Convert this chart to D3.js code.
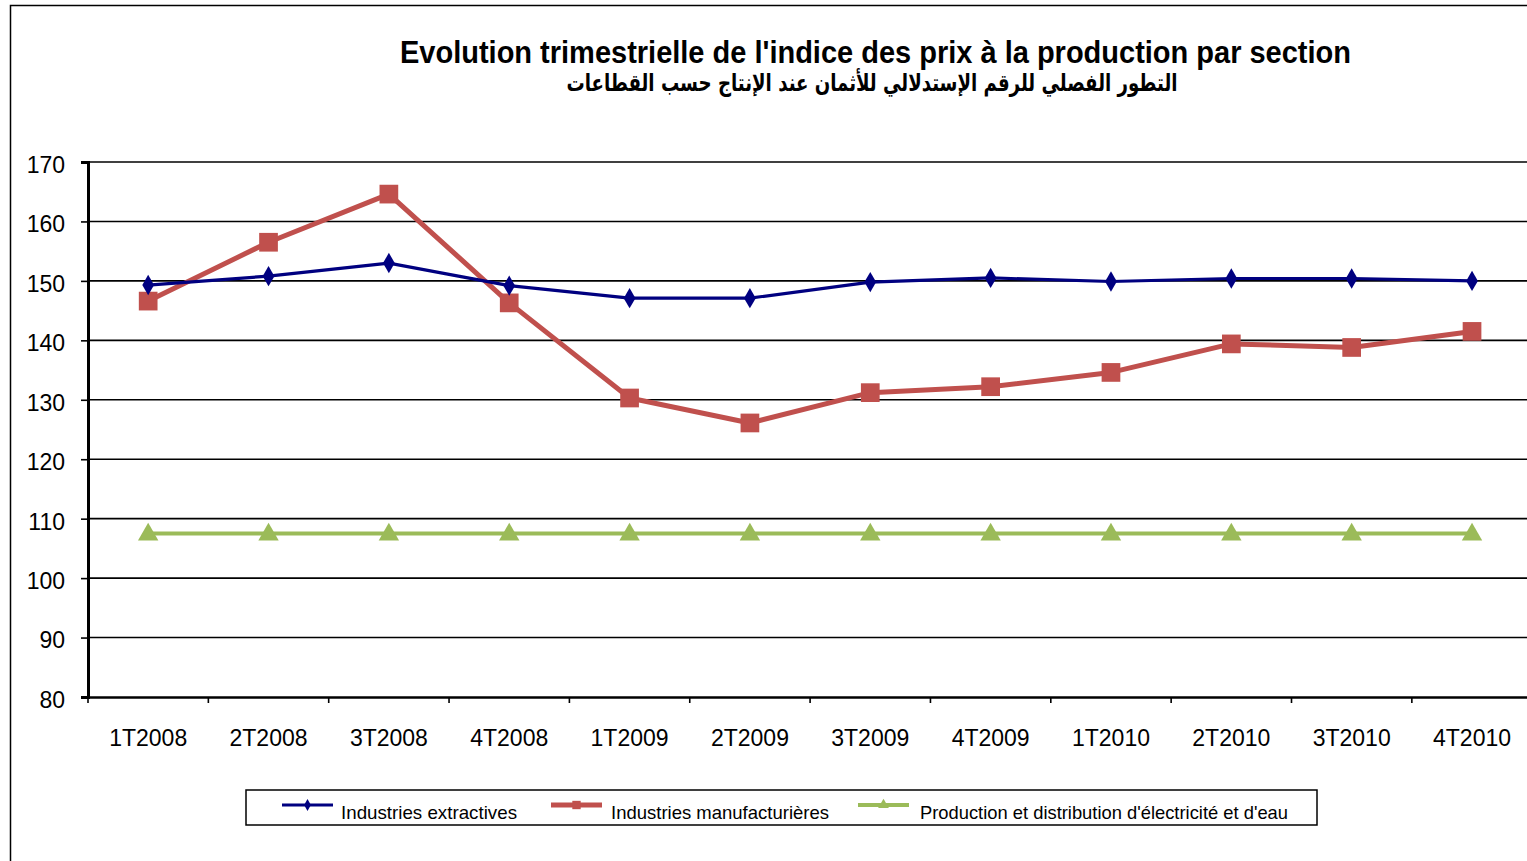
<!DOCTYPE html>
<html><head><meta charset="utf-8">
<script src="https://cdn.jsdelivr.net/npm/d3@7"></script>
<style>body{margin:0;background:#fff;overflow:hidden}svg{display:block;font-family:"Liberation Sans",Arial,sans-serif}</style>
</head><body>
<svg id="c" width="1527" height="861"></svg>
<script>
const categories = ["1T2008","2T2008","3T2008","4T2008","1T2009","2T2009","3T2009","4T2009","1T2010","2T2010","3T2010","4T2010"];
const extractives = [149.3,150.8,153.0,149.2,147.1,147.1,149.8,150.5,149.9,150.4,150.4,150.0];
const manufacturieres = [146.6,156.5,164.6,146.3,130.3,126.1,131.2,132.2,134.6,139.4,138.8,141.5];
const electricite = [107.5,107.5,107.5,107.5,107.5,107.5,107.5,107.5,107.5,107.5,107.5,107.5];
const yTicks = [80,90,100,110,120,130,140,150,160,170];
const seriesNames = ["Industries extractives","Industries manufacturières","Production et distribution d'électricité et d'eau"];
const title1 = "Evolution trimestrielle de l'indice des prix à la production par section";
const title2 = "التطور الفصلي للرقم الإستدلالي للأثمان عند الإنتاج حسب القطاعات";

(function(){
const svg = d3.select("#c");
const left = 88, plotW = 120.35*12, plotTop = 162, plotBottom = 697;
const x = d3.scaleBand().domain(categories).range([left, left+plotW]);
const y = d3.scaleLinear().domain([80,170]).range([plotBottom, plotTop]);

// outer border
svg.append("rect").attr("x",10.5).attr("y",5.5).attr("width",1600).attr("height",1000)
  .attr("fill","none").attr("stroke","#000").attr("stroke-width",1.5);

// titles
svg.append("text").attr("x",400).attr("y",63)
  .attr("font-size",31).attr("font-weight","bold")
  .attr("textLength",951).attr("lengthAdjust","spacingAndGlyphs").text(title1);
svg.append("text").attr("x",872).attr("y",91).attr("text-anchor","middle").attr("direction","rtl")
  .attr("font-family","'DejaVu Sans',sans-serif")
  .attr("font-size",24).attr("font-weight","bold")
  .attr("textLength",611).attr("lengthAdjust","spacingAndGlyphs").text(title2);

// gridlines
svg.append("g").selectAll("line").data(yTicks.filter(d=>d>80)).join("line")
  .attr("x1",left).attr("x2",1527).attr("y1",d=>y(d)).attr("y2",d=>y(d))
  .attr("stroke","#000").attr("stroke-width",1.6);

// y axis
const ya = svg.append("g").attr("transform",`translate(${left},0)`)
  .call(d3.axisLeft(y).tickValues(yTicks).tickSize(7).tickPadding(16));
ya.select(".domain").attr("stroke-width",3);
ya.selectAll(".tick line").attr("stroke-width",1.6);
ya.selectAll("text").attr("font-size",23).attr("fill","#000").attr("dy","0.45em")
  .attr("font-family","'Liberation Sans',Arial,sans-serif");

// x axis
const xa = svg.append("g").attr("transform",`translate(0,${plotBottom})`)
  .call(d3.axisBottom(x).tickSize(0).tickPadding(33));
xa.select(".domain").attr("stroke-width",2.5);
xa.selectAll("text").attr("font-size",23).attr("fill","#000").attr("font-family","'Liberation Sans',Arial,sans-serif");
svg.append("g").selectAll("line").data(d3.range(categories.length+1)).join("line")
  .attr("x1",i=>left+i*x.step()).attr("x2",i=>left+i*x.step())
  .attr("y1",plotBottom).attr("y2",plotBottom+6).attr("stroke","#000").attr("stroke-width",1.6);

const cx = d => x(d)+x.bandwidth()/2;
const line = d3.line().x((d,i)=>cx(categories[i])).y(d=>y(d));

const series = [
  {vals:electricite, color:"#9BBB59", w:4, sym:d3.symbolTriangle, size:180},
  {vals:manufacturieres, color:"#C0504D", w:5, sym:d3.symbolSquare, size:350},
  {vals:extractives, color:"#000080", w:3.2, sym:d3.symbolDiamond, size:120}
];
series.forEach(s=>{
  svg.append("path").datum(s.vals).attr("d",line).attr("fill","none")
    .attr("stroke",s.color).attr("stroke-width",s.w).attr("stroke-linejoin","round");
  svg.append("g").selectAll("path").data(s.vals).join("path")
    .attr("transform",(d,i)=>`translate(${cx(categories[i])},${y(d)+(s.sym===d3.symbolTriangle?1:0)})`)
    .attr("d",d3.symbol(s.sym,s.size)).attr("fill",s.color);
});

// legend
svg.append("rect").attr("x",246).attr("y",790).attr("width",1071).attr("height",35)
  .attr("fill","#fff").attr("stroke","#000").attr("stroke-width",1.5);
const leg = [
  {x:282, tx:341, tl:176, color:"#000080", w:3, sym:d3.symbolDiamond, size:40},
  {x:551, tx:611, tl:218, color:"#C0504D", w:5, sym:d3.symbolSquare, size:70},
  {x:858, tx:920, tl:368, color:"#9BBB59", w:4, sym:d3.symbolTriangle, size:50}
];
leg.forEach((l,i)=>{
  svg.append("line").attr("x1",l.x).attr("x2",l.x+51).attr("y1",805).attr("y2",805)
    .attr("stroke",l.color).attr("stroke-width",l.w);
  svg.append("path").attr("transform",`translate(${l.x+25.5},805)`).attr("d",d3.symbol(l.sym,l.size)).attr("fill",l.color);
  svg.append("text").attr("x",l.tx).attr("y",819).attr("font-size",18.5)
    .attr("textLength",l.tl).attr("lengthAdjust","spacingAndGlyphs").text(seriesNames[i]);
});
})();
</script>
</body></html>
